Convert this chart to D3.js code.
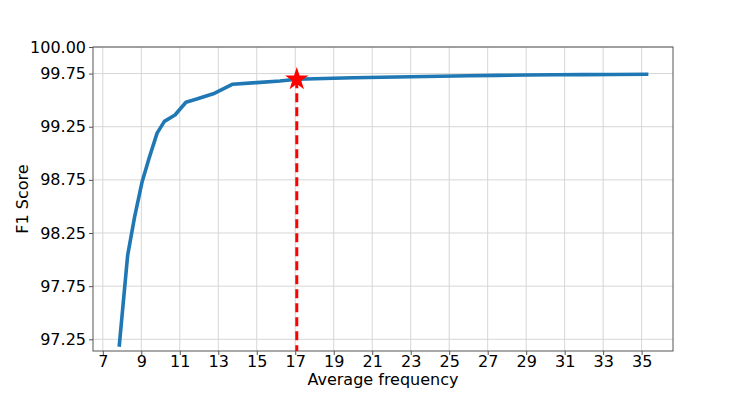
<!DOCTYPE html>
<html>
<head>
<meta charset="utf-8">
<script src="https://cdn.jsdelivr.net/npm/d3@7"></script>
<style>
  body { margin: 0; background: white; }
  text { font-family: "DejaVu Sans", sans-serif; }
</style>
</head>
<body>
<div id="d3-container"></div>
<script>
// values
let avgFreq = [7.85, 8.29, 8.65, 9.04, 9.4, 9.82, 10.2, 10.75, 11.32, 11.88, 12.74, 13.75,
  15.0, 16.2, 17.08, 18.5, 20.0, 21.5, 23.0, 24.5, 26.0, 27.5, 29.0, 30.5, 32.0, 33.5, 35.35];
let f1Score = [97.18, 98.04, 98.4, 98.73, 98.95, 99.19, 99.3, 99.36, 99.48, 99.51, 99.56, 99.65,
  99.665, 99.68, 99.696, 99.703, 99.71, 99.716, 99.72, 99.725, 99.729, 99.733, 99.737, 99.739, 99.74, 99.741, 99.743];
let xTicks = [7, 9, 11, 13, 15, 17, 19, 21, 23, 25, 27, 29, 31, 33, 35];
let yTicks = [97.25, 97.75, 98.25, 98.75, 99.25, 99.75, 100.0];
let best = { x: 17.08, y: 99.696 };

let margin = { top: 47, left: 93, right: 75, bottom: 44 },
  width = 748 - margin.left - margin.right,
  height = 395 - margin.top - margin.bottom;

let svg = d3
  .select('#d3-container')
  .append('svg')
  .attr('width', 748)
  .attr('height', 395);

let xScale = d3.scaleLinear().domain([6.49, 36.63]).range([0, width]),
  yScale = d3.scaleLinear().domain([97.14, 100.0]).range([height, 0]);

let g = svg.append('g').attr('transform', 'translate(' + margin.left + ',' + margin.top + ')');

// grid
g.append('g')
  .selectAll('line')
  .data(xTicks)
  .enter()
  .append('line')
  .attr('x1', (d) => xScale(d))
  .attr('x2', (d) => xScale(d))
  .attr('y1', 0)
  .attr('y2', height)
  .attr('stroke', '#d6d6d6')
  .attr('stroke-width', 1);

g.append('g')
  .selectAll('line')
  .data(yTicks)
  .enter()
  .append('line')
  .attr('x1', 0)
  .attr('x2', width)
  .attr('y1', (d) => yScale(d))
  .attr('y2', (d) => yScale(d))
  .attr('stroke', '#d6d6d6')
  .attr('stroke-width', 1);

// axes
let xAxis = g.append('g')
  .attr('transform', 'translate(0,' + height + ')')
  .call(d3.axisBottom(xScale).tickValues(xTicks).tickFormat(d3.format('d')).tickSize(4).tickPadding(1));

let yAxis = g.append('g')
  .call(d3.axisLeft(yScale).tickValues(yTicks).tickFormat(d3.format('.2f')).tickSize(4).tickPadding(3));

[xAxis, yAxis].forEach(function (a) {
  a.select('.domain').remove();
  a.selectAll('line').attr('stroke', '#555');
  a.selectAll('text').attr('font-size', 16).attr('fill', '#000').style('font-family', '"DejaVu Sans", sans-serif');
});

// frame
g.append('rect')
  .attr('width', width)
  .attr('height', height)
  .attr('fill', 'none')
  .attr('stroke', '#555')
  .attr('stroke-width', 1);

// curve
let line = d3.line()
  .x((d, i) => xScale(avgFreq[i]))
  .y((d) => yScale(d));

g.append('path')
  .datum(f1Score)
  .attr('d', line)
  .attr('fill', 'none')
  .attr('stroke', '#1f77b4')
  .attr('stroke-width', 3.6)
  .attr('stroke-linejoin', 'round');

// chosen point
g.append('line')
  .attr('x1', xScale(best.x))
  .attr('x2', xScale(best.x))
  .attr('y1', yScale(best.y))
  .attr('y2', height)
  .attr('stroke', 'red')
  .attr('stroke-width', 3)
  .attr('stroke-dasharray', '9,5');

g.append('path')
  .attr('d', d3.symbol().type(d3.symbolStar).size(170)())
  .attr('transform', 'translate(' + xScale(best.x) + ',' + yScale(best.y) + ')')
  .attr('fill', 'red');

// labels
svg.append('text')
  .attr('x', margin.left + width / 2)
  .attr('y', 385)
  .attr('text-anchor', 'middle')
  .attr('font-size', 16)
  .text('Average frequency');

svg.append('text')
  .attr('transform', 'translate(28,' + (margin.top + height / 2) + ') rotate(-90)')
  .attr('text-anchor', 'middle')
  .attr('font-size', 16)
  .text('F1 Score');
</script>
</body>
</html>
